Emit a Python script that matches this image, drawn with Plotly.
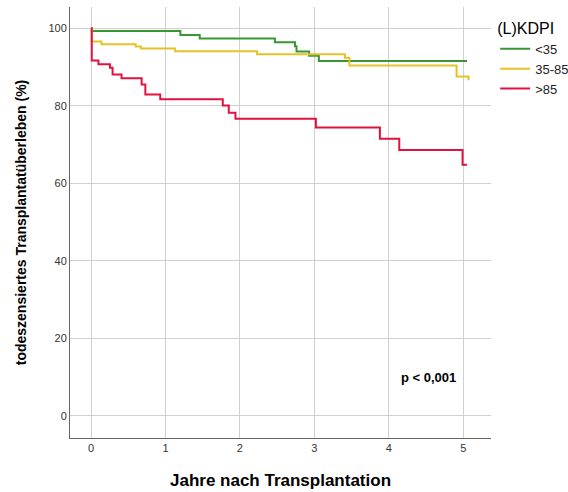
import plotly.graph_objects as go

# Kaplan-Meier step data (time in years, survival in %)
t_low = [0, 0.01, 1.20, 1.46, 2.47, 2.74, 2.76, 2.93, 3.06, 5.05]
s_low = [100, 99.3, 98.3, 97.4, 96.4, 95.4, 94.0, 92.9, 91.6, 91.6]

t_mid = [0, 0.01, 0.14, 0.60, 0.67, 1.13, 2.23, 3.41, 3.47, 4.91, 5.07, 5.07]
s_mid = [100, 96.6, 95.9, 95.3, 94.8, 94.1, 93.3, 92.4, 90.4, 87.6, 86.6, 86.6]

t_high = [0, 0.01, 0.10, 0.255, 0.29, 0.41, 0.68, 0.73, 0.93, 1.77, 1.85, 1.94,
          3.02, 3.88, 4.14, 4.99, 5.05]
s_high = [100, 91.7, 90.7, 89.8, 88.1, 87.1, 85.5, 82.9, 81.7, 80.1, 78.2, 76.7,
          74.4, 71.5, 68.6, 64.8, 64.8]

names = ["<35", "35-85", ">85"]
colors = ["#3a9634", "#e6c229", "#e0123f"]

x_ticks = [0, 1, 2, 3, 4, 5]
y_ticks = [0, 20, 40, 60, 80, 100]

fig = go.Figure()
for t, s, n, c in zip([t_low, t_mid, t_high], [s_low, s_mid, s_high], names, colors):
    fig.add_trace(go.Scatter(x=t, y=s, mode="lines", name=n,
                             line=dict(color=c, width=2, shape="hv")))

fig.add_annotation(x=4.53, y=9.8, text="<b>p < 0,001</b>", showarrow=False,
                   font=dict(size=13, color="#000000", family="Liberation Sans"))

axis_common = dict(showgrid=True, gridcolor="#d0d0d0", gridwidth=1,
                   showline=True, linecolor="#666666", linewidth=1,
                   zeroline=False, ticks="",
                   tickfont=dict(size=11, color="#333333", family="Liberation Sans"))

fig.update_layout(
    width=568, height=492,
    margin=dict(l=70, r=77, t=7, b=54, autoexpand=False),
    plot_bgcolor="white", paper_bgcolor="white",
    font=dict(family="Liberation Sans", color="#000000"),
    xaxis=dict(range=[-0.282, 5.372], tickvals=x_ticks,
               title=dict(text="<b>Jahre nach Transplantation</b>",
                          font=dict(size=17), standoff=20),
               **axis_common),
    yaxis=dict(range=[-5.68, 105.5], tickvals=y_ticks,
               title=dict(text="<b>todeszensiertes Transplantatüberleben (%)</b>",
                          font=dict(size=14), standoff=18),
               **axis_common),
    legend=dict(x=1.01, y=0.986, xanchor="left", yanchor="top",
                title=dict(text="(L)KDPI", font=dict(size=16, color="#000000")),
                font=dict(size=13, color="#222222"),
                itemwidth=30, tracegroupgap=0, bgcolor="rgba(0,0,0,0)"),
)

fig.write_html("out.html")
